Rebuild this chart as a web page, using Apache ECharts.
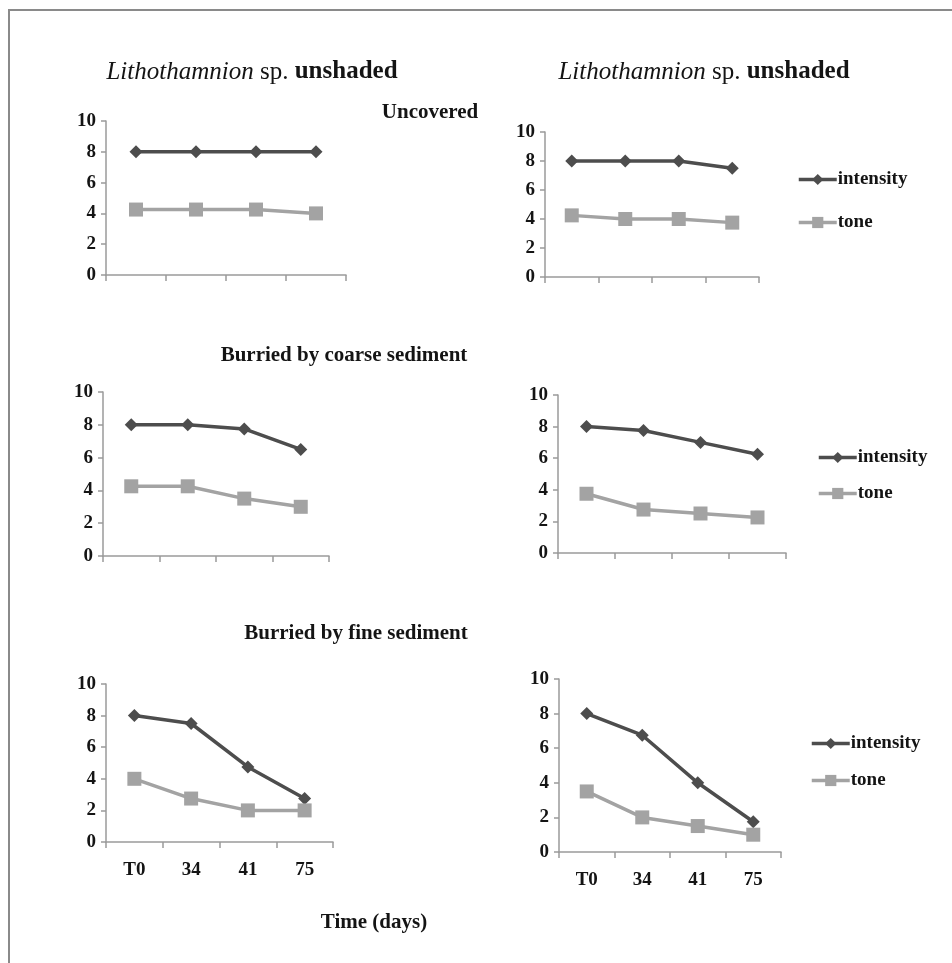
<!DOCTYPE html>
<html>
<head>
<meta charset="utf-8">
<script src="https://cdn.jsdelivr.net/npm/echarts@6/dist/echarts.min.js"></script>
<style>html,body{margin:0;padding:0;background:#fff}#c{width:952px;height:963px}</style>
</head>
<body>
<div id="c"></div>
<script>
// ---- data ----
const categories = ['T0', '34', '41', '75'];
const yTicks = [0, 2, 4, 6, 8, 10];
const seriesNames = ['intensity', 'tone'];
// left column / right column, rows: uncovered, coarse, fine
const uncoveredLeftIntensity = [8, 8, 8, 8];
const uncoveredLeftTone = [4.25, 4.25, 4.25, 4];
const uncoveredRightIntensity = [8, 8, 8, 7.5];
const uncoveredRightTone = [4.25, 4, 4, 3.75];
const coarseLeftIntensity = [8, 8, 7.75, 6.5];
const coarseLeftTone = [4.25, 4.25, 3.5, 3];
const coarseRightIntensity = [8, 7.75, 7, 6.25];
const coarseRightTone = [3.75, 2.75, 2.5, 2.25];
const fineLeftIntensity = [8, 7.5, 4.75, 2.75];
const fineLeftTone = [4, 2.75, 2, 2];
const fineRightIntensity = [8, 6.75, 4, 1.75];
const fineRightTone = [3.5, 2, 1.5, 1];

const panels = [
  {grid: {left: 106, top: 121, width: 240, height: 154}, a: uncoveredLeftIntensity, b: uncoveredLeftTone, xl: false},
  {grid: {left: 545, top: 132, width: 214, height: 145}, a: uncoveredRightIntensity, b: uncoveredRightTone, xl: false},
  {grid: {left: 103, top: 392, width: 226, height: 164}, a: coarseLeftIntensity, b: coarseLeftTone, xl: false},
  {grid: {left: 558, top: 395, width: 228, height: 158}, a: coarseRightIntensity, b: coarseRightTone, xl: false},
  {grid: {left: 106, top: 684, width: 227, height: 158}, a: fineLeftIntensity, b: fineLeftTone, xl: true},
  {grid: {left: 559, top: 679, width: 222, height: 173}, a: fineRightIntensity, b: fineRightTone, xl: true}
];

const FONT = '"Liberation Serif", "Times New Roman", serif';
const darkC = '#4d4d4d';
const lightC = '#a3a3a3';
const axisC = '#9a9a9a';
const txtC = '#141414';

const grids = [], xAxes = [], yAxes = [], series = [];
panels.forEach((p, i) => {
  grids.push(Object.assign({containLabel: false}, p.grid));
  xAxes.push({
    type: 'category', gridIndex: i, data: categories, boundaryGap: true,
    axisLine: {lineStyle: {color: axisC, width: 1.5}},
    axisTick: {show: true, length: 6, inside: false, alignWithLabel: false, lineStyle: {color: axisC, width: 1.5}},
    axisLabel: {show: p.xl, margin: 19, fontFamily: FONT, fontWeight: 'bold', fontSize: 19, color: txtC},
    splitLine: {show: false}
  });
  yAxes.push({
    type: 'value', gridIndex: i, min: yTicks[0], max: yTicks[yTicks.length - 1], interval: yTicks[1] - yTicks[0],
    axisLine: {show: true, lineStyle: {color: axisC, width: 1.5}},
    axisTick: {show: true, length: 5, lineStyle: {color: axisC, width: 1.5}},
    axisLabel: {margin: 10, fontFamily: FONT, fontWeight: 'bold', fontSize: 19, color: txtC},
    splitLine: {show: false}
  });
  series.push({
    name: seriesNames[0], type: 'line', xAxisIndex: i, yAxisIndex: i, data: p.a,
    symbol: 'diamond', symbolSize: 13, lineStyle: {color: darkC, width: 3.5},
    itemStyle: {color: darkC}, animation: false
  });
  series.push({
    name: seriesNames[1], type: 'line', xAxisIndex: i, yAxisIndex: i, data: p.b,
    symbol: 'rect', symbolSize: 14, lineStyle: {color: lightC, width: 3.5},
    itemStyle: {color: lightC}, animation: false
  });
});

function legendAt(left, top, gap) {
  return {
    orient: 'vertical', left: left, top: top, itemWidth: 38, itemHeight: 14, itemGap: gap,
    data: seriesNames, selectedMode: false,
    lineStyle: {width: 3.5},
    textStyle: {fontFamily: FONT, fontWeight: 'bold', fontSize: 19, color: txtC, padding: [0, 0, 0, -4]}
  };
}

function titleText(x, y) {
  return {
    type: 'text', x: x, y: y,
    style: {
      text: '{i|Lithothamnion}{n| sp. }{b|unshaded}',
      align: 'center', verticalAlign: 'middle',
      rich: {
        i: {fontFamily: FONT, fontStyle: 'italic', fontSize: 25, fill: txtC},
        n: {fontFamily: FONT, fontSize: 25, fill: txtC},
        b: {fontFamily: FONT, fontWeight: 'bold', fontSize: 25, fill: txtC}
      }
    }
  };
}
function boldText(x, y, t, size) {
  return {
    type: 'text', x: x, y: y,
    style: {text: t, align: 'center', verticalAlign: 'middle', fontFamily: FONT, fontWeight: 'bold', fontSize: size, fill: txtC}
  };
}

const chart = echarts.init(document.getElementById('c'), null, {renderer: 'canvas'});
chart.setOption({
  backgroundColor: '#fff',
  animation: false,
  grid: grids, xAxis: xAxes, yAxis: yAxes, series: series,
  legend: [legendAt(792, 165, 24), legendAt(812, 443, 17), legendAt(805, 729, 18)],
  graphic: [
    {type: 'polyline', shape: {points: [[9, 970], [9, 10], [960, 10]]}, style: {stroke: '#8a8a8a', lineWidth: 2, fill: null}},
    titleText(252, 72),
    titleText(704, 72),
    boldText(430, 113, 'Uncovered', 21),
    boldText(344, 356, 'Burried by coarse sediment', 21),
    boldText(356, 634, 'Burried by fine sediment', 21),
    boldText(374, 923, 'Time (days)', 21)
  ]
});
</script>
</body>
</html>
